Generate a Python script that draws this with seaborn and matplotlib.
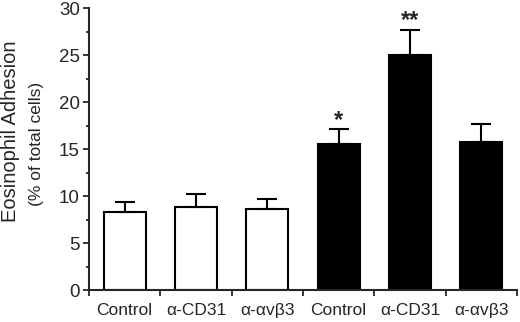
import matplotlib
matplotlib.use('Agg')
import matplotlib.pyplot as plt
import pandas  as pd
import seaborn as sns
from matplotlib.ticker import MultipleLocator, FixedLocator

# Data
groups     = ['Control', 'α-CD31', 'α-αvβ3', 'Control', 'α-CD31', 'α-αvβ3']
conditions = ['unstim', 'unstim', 'unstim', 'stim', 'stim', 'stim']
adhesion   = [8.3, 8.8, 8.6, 15.5, 25.0, 15.8]
sem        = [1.1, 1.45, 1.1, 1.6, 2.7, 1.9]
stars      = ['', '', '', '*', '**', '']


def plot_adhesion():
    '''
    Bar chart of eosinophil adhesion per treatment, open bars for the
    first three groups and filled bars for the last three, with upper
    SEM error bars and significance stars.
    '''

    df = pd.DataFrame({'key'       : [f'{g}_{i}' for i, g in enumerate(groups)],
                       'adhesion'  : adhesion,
                       'condition' : conditions})

    sns.set_style('ticks')
    plt.rcParams['font.family'] = ['Liberation Sans', 'DejaVu Sans']

    fig = plt.figure(figsize = (5.2, 3.22), dpi = 100)
    ax  = fig.add_axes([0.171, 0.099, 0.823, 0.876])

    sns.barplot(data      = df,
                x         = 'key',
                y         = 'adhesion',
                hue       = 'condition',
                palette   = {'unstim' : 'white', 'stim' : 'black'},
                edgecolor = 'black',
                linewidth = 1.5,
                width     = 0.59,
                dodge     = False,
                legend    = False,
                ax        = ax)

    # upper error bars only
    xs = list(range(len(groups)))
    ax.errorbar(xs, adhesion, yerr = [[0] * len(sem), sem],
                fmt = 'none', ecolor = 'black', elinewidth = 1.5,
                capsize = 7, capthick = 1.5, zorder = 1)

    for x, y, e, s in zip(xs, adhesion, sem, stars):
        if s:
            ax.text(x, y + e - 0.3, s, ha = 'center', va = 'bottom',
                    fontsize = 17, fontweight = 'bold')

    # axes styling
    ax.set_xlim(-0.5, 5.5)
    ax.set_ylim(0, 30)
    ax.yaxis.set_major_locator(MultipleLocator(5))
    ax.yaxis.set_minor_locator(MultipleLocator(2.5))
    ax.set_xticks(xs)
    ax.set_xticklabels(groups)
    ax.xaxis.set_minor_locator(FixedLocator([i + 0.5 for i in range(-1, 6)]))
    ax.tick_params(axis = 'x', which = 'major', length = 0, pad = 9, labelsize = 12.5)
    ax.tick_params(axis = 'x', which = 'minor', length = 4.5, width = 1.3)
    ax.tick_params(axis = 'y', which = 'major', length = 4.5, width = 1.3, labelsize = 13.5, pad = 2)
    ax.tick_params(axis = 'y', which = 'minor', length = 2.5, width = 1.3)
    for side in ['left', 'bottom']:
        ax.spines[side].set_linewidth(1.5)
    sns.despine(ax = ax)
    ax.set_xlabel('')
    ax.set_ylabel('')

    fig.text(0.020, 0.593, 'Eosinophil Adhesion', rotation = 90,
             ha = 'center', va = 'center', fontsize = 14.5)
    fig.text(0.071, 0.554, '(% of total cells)', rotation = 90,
             ha = 'center', va = 'center', fontsize = 12.5)

    plt.savefig('out.png', dpi = 100)


if __name__ == "__main__":

    plot_adhesion()
